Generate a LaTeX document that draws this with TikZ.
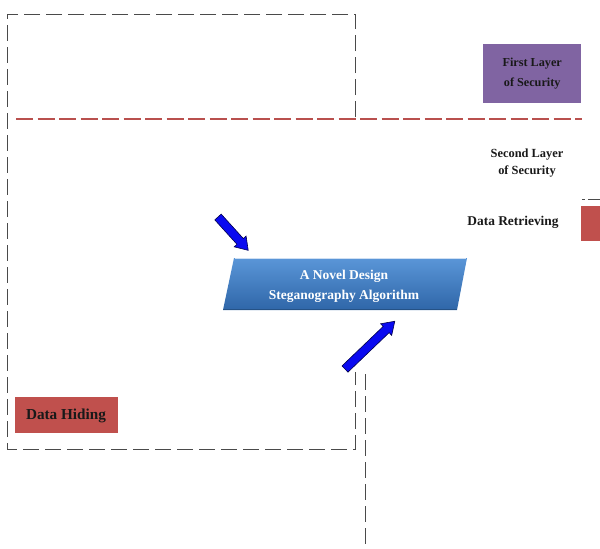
\documentclass[tikz,border=0pt]{standalone}
\usepackage{fontspec}
\setmainfont{Liberation Serif}
\usetikzlibrary{calc}
\definecolor{gbox}{HTML}{4A4A4A}
\definecolor{redline}{HTML}{B9504E}
\definecolor{purp}{HTML}{8064A2}
\definecolor{redbox}{HTML}{C0504D}
\definecolor{bluetop}{HTML}{5A96D8}
\definecolor{bluebot}{HTML}{2F66A8}
\definecolor{arrowblue}{HTML}{0A0AF0}
\tikzset{
  gdash/.style={draw=gbox, line width=0.9pt, dash pattern=on 16pt off 6pt},
  rdash/.style={draw=redline, line width=1.1pt, dash pattern=on 17pt off 4.5pt},
  lbl/.style={font=\bfseries\fontsize{12}{13}\selectfont, align=center, inner sep=0pt, text=black!90},
  bigarrow/.pic={
    \fill[arrowblue, draw=black!70!blue, line width=0.6pt]
      (0,-4.3) -- (\arrlen-12,-4.3) -- (\arrlen-12,-8) -- (\arrlen,0) -- (\arrlen-12,8) -- (\arrlen-12,4.3) -- (0,4.3) -- cycle;
  }
}
\newcommand{\arrlen}{43}
\begin{document}
\begin{tikzpicture}[x=1pt,y=-1pt]
\useasboundingbox (0,0) rectangle (600,549);
% dashed box (partially hidden)
\draw[gdash] (355,117) -- (355,14) -- (7,14) -- (7,449) -- (355,449) -- (355,372);
\draw[gdash] (365,374) -- (365,549);
\draw[gdash, dash pattern=on 3pt off 3pt on 14pt off 2pt] (582,199) -- (600,199);
% red dashed line
\draw[rdash] (16,119) -- (582,119);
% purple box
\node[fill=purp, minimum width=98pt, minimum height=59pt, anchor=north west, inner sep=0pt] (first) at (483,44) {};
\node[lbl, font=\bfseries\fontsize{12.2}{20}\selectfont] (firstt) at (first.center) {First Layer\\of Security};
% second layer text
\node[lbl, font=\bfseries\fontsize{12.4}{17}\selectfont] (second) at (527,163) {Second Layer\\of Security};
% data retrieving
\node[lbl, font=\bfseries\fontsize{13.4}{14}\selectfont] (retr) at (513,222) {Data Retrieving};
\node[fill=redbox, minimum width=19pt, minimum height=35pt, anchor=north west, inner sep=0pt] (retbox) at (581,206) {};
% data hiding
\node[fill=redbox, minimum width=103pt, minimum height=36pt, anchor=north west, inner sep=0pt] (hide) at (15,397) {};
\node[lbl, font=\bfseries\fontsize{15.2}{16}\selectfont] (hidet) at (66,416) {Data Hiding};
% parallelogram
\shade[top color=bluetop, bottom color=bluebot] (234,258) -- (467,258) -- (457,310) -- (223,310) -- cycle;
\draw[white!70!bluetop, line width=1.2pt] (235,258.6) -- (466,258.6);
\draw[bluebot!80!black, line width=0.8pt] (223,309.6) -- (457,309.6);
\node[lbl, text=white, font=\bfseries\fontsize{13.5}{20}\selectfont] (algo) at (344,286) {A Novel Design\\Steganography Algorithm};
% arrows
\coordinate (a1) at (218,217);
\coordinate (a2) at (345,369);
\renewcommand{\arrlen}{45}
\pic[rotate=-47.8] at (a1) {bigarrow};
\renewcommand{\arrlen}{69}
\pic[rotate=43.8] at (a2) {bigarrow};
\end{tikzpicture}
\end{document}
